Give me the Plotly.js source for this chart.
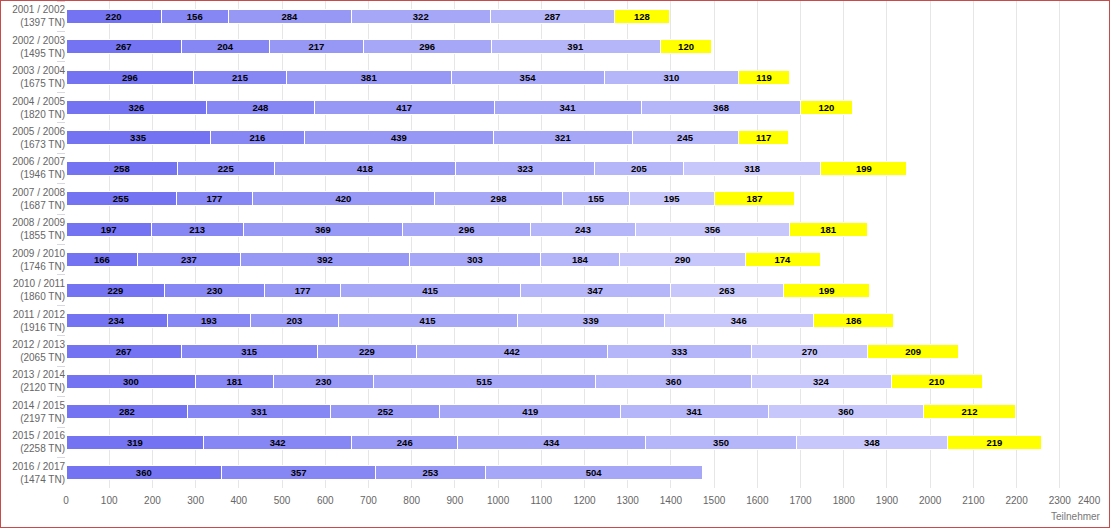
<!DOCTYPE html>
<html>
<head>
<meta charset="utf-8">
<script src="https://cdn.plot.ly/plotly-3.0.1.min.js"></script>
<style>
  html, body { margin: 0; padding: 0; background: #fff; }
  #wrap { position: relative; width: 1110px; height: 528px; }
  #chart { width: 1110px; height: 528px; }
  #frame { position: absolute; left: 0; top: 0; width: 1110px; height: 528px; box-sizing: border-box; border: 1px solid #c84a4a; pointer-events: none; }
</style>
</head>
<body>
<div id="wrap"><div id="chart"></div><div id="frame"></div></div>
<script>
// School years and total participants (TN)
const years = ["2001 / 2002","2002 / 2003","2003 / 2004","2004 / 2005","2005 / 2006","2006 / 2007","2007 / 2008","2008 / 2009","2009 / 2010","2010 / 2011","2011 / 2012","2012 / 2013","2013 / 2014","2014 / 2015","2015 / 2016","2016 / 2017"];
const totals = [1397,1495,1675,1820,1673,1946,1687,1855,1746,1860,1916,2065,2120,2197,2258,1474];

// Stacked segments (in order from left to right)
const seg1 = [220,267,296,326,335,258,255,197,166,229,234,267,300,282,319,360];
const seg2 = [156,204,215,248,216,225,177,213,237,230,193,315,181,331,342,357];
const seg3 = [284,217,381,417,439,418,420,369,392,177,203,229,230,252,246,253];
const seg4 = [322,296,354,341,321,323,298,296,303,415,415,442,515,419,434,504];
const seg5 = [287,391,310,368,245,205,155,243,184,347,339,333,360,341,350,null];
const seg6 = [null,null,null,null,null,318,195,356,290,263,346,270,324,360,348,null];
const seg7 = [128,120,119,120,117,199,187,181,174,199,186,209,210,212,219,null];

const segColors = ["#7474f2","#8686f4","#9797f6","#a7a7f8","#b5b5f9","#c7c7fb","#ffff00"];
const xTitle = "Teilnehmer";
const xMax = 2400;
const xTickVals = [0,100,200,300,400,500,600,700,800,900,1000,1100,1200,1300,1400,1500,1600,1700,1800,1900,2000,2100,2200,2300];

const categories = years.map((y, i) => y + "<br>(" + totals[i] + " TN)");
const segs = [seg1, seg2, seg3, seg4, seg5, seg6, seg7];

const traces = segs.map((vals, k) => ({
  type: "bar",
  orientation: "h",
  name: "Teil " + (k + 1),
  y: categories,
  x: vals,
  marker: { color: segColors[k], line: { color: "#ffffff", width: 1 } },
  texttemplate: "<b>%{x}</b>",
  textposition: "inside",
  insidetextanchor: "middle",
  constraintext: "none",
  textfont: { family: "Liberation Sans, Arial, sans-serif", size: 9.5, color: "#000000" },
  hoverinfo: "skip",
  showlegend: false
}));

const layout = {
  barmode: "stack",
  bargap: 0.54,
  margin: { l: 66, r: 7, t: 1, b: 40 },
  paper_bgcolor: "#ffffff",
  plot_bgcolor: "#ffffff",
  font: { family: "Liberation Sans, Arial, sans-serif", color: "#666666", size: 10 },
  xaxis: {
    range: [0, xMax],
    tickmode: "array",
    tickvals: xTickVals.concat([xMax]),
    ticktext: xTickVals.map(String).concat([""]),
    showgrid: true,
    gridcolor: "#e6e6e6",
    gridwidth: 1,
    zeroline: false,
    showline: false,
    ticks: "",
    ticklabelstandoff: 5,
    tickfont: { size: 10, color: "#666666" },
    fixedrange: true
  },
  yaxis: {
    type: "category",
    autorange: "reversed",
    showgrid: false,
    zeroline: false,
    showline: false,
    ticks: "outside",
    tickson: "boundaries",
    ticklen: 8,
    tickcolor: "#d8d8e0",
    tickfont: { size: 10, color: "#666666" },
    fixedrange: true
  },
  annotations: [{
    text: String(xMax),
    xref: "x", yref: "paper",
    x: xMax, y: -0.025,
    xanchor: "right", yanchor: "middle",
    showarrow: false,
    font: { size: 10, color: "#666666" }
  }, {
    text: xTitle,
    xref: "paper", yref: "paper",
    x: 1, y: -0.058,
    xanchor: "right", yanchor: "middle",
    showarrow: false,
    font: { size: 10, color: "#777777" }
  }]
};

Plotly.newPlot("chart", traces, layout, { displayModeBar: false, staticPlot: true });
</script>
</body>
</html>
